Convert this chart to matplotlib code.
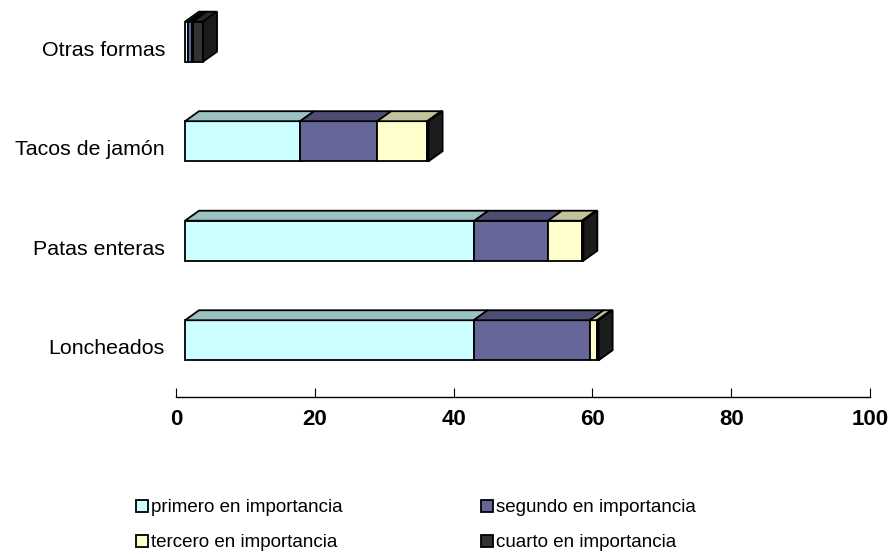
import matplotlib
matplotlib.use("Agg")
import matplotlib.pyplot as plt
from matplotlib.patches import Rectangle, Polygon, Patch
from matplotlib.colors import to_rgb

# Data: share of answers placing each presentation first..fourth in importance
categories = ["Loncheados", "Patas enteras", "Tacos de jamón", "Otras formas"]
series_names = ["primero en importancia", "segundo en importancia",
                "tercero en importancia", "cuarto en importancia"]
primero = [41.6, 41.7, 16.6, 0.5]
segundo = [16.7, 10.6, 11.1, 0.5]
tercero = [1.1, 4.9, 7.2, 0.1]
cuarto = [0.2, 0.2, 0.2, 1.5]
xticks = [0, 20, 40, 60, 80, 100]

front_colors = ["#CCFFFF", "#666699", "#FFFFCC", "#333333"]
TOP_SHADE = 0.76
SIDE_SHADE = 0.55

W, H, DPI = 893, 554, 100
fig = plt.figure(figsize=(W / DPI, H / DPI), dpi=DPI)

ax_left_px, ax_right_px = 176, 870
ax_bottom_px = 397.3
ylo, yhi = -0.508, 3.484
ax = fig.add_axes([ax_left_px / W, (H - ax_bottom_px) / H,
                   (ax_right_px - ax_left_px) / W, ax_bottom_px / H])
ax.set_xlim(0, 100)
ax.set_ylim(ylo, yhi)

# pixel sizes of the 3-D look, converted to data units
px_x = (ax_right_px - ax_left_px) / 100.0
px_y = ax_bottom_px / (yhi - ylo)
front_dx, front_dy = 9 / px_x, 6.5 / px_y      # bar front plane behind the floor edge
depth_dx, depth_dy = 14 / px_x, 10 / px_y      # bar depth
bar_h = 40 / px_y
LW = 1.3


def shade(c, f):
    r, g, b = to_rgb(c)
    return (r * f, g * f, b * f)


series = [primero, segundo, tercero, cuarto]
for i, cat in enumerate(categories):
    left = front_dx
    yc = i + front_dy
    yb, yt = yc - bar_h / 2, yc + bar_h / 2
    for s, vals in enumerate(series):
        w = vals[i]
        col = front_colors[s]
        ax.add_patch(Rectangle((left, yb), w, bar_h, facecolor=col,
                               edgecolor="black", linewidth=LW, zorder=3))
        ax.add_patch(Polygon([(left, yt), (left + w, yt),
                              (left + w + depth_dx, yt + depth_dy),
                              (left + depth_dx, yt + depth_dy)],
                             closed=True, facecolor=shade(col, TOP_SHADE),
                             edgecolor="black", linewidth=LW, zorder=3))
        if s == len(series) - 1:
            r = left + w
            ax.add_patch(Polygon([(r, yb), (r + depth_dx, yb + depth_dy),
                                  (r + depth_dx, yt + depth_dy), (r, yt)],
                                 closed=True, facecolor=shade(col, SIDE_SHADE),
                                 edgecolor="black", linewidth=LW, zorder=3))
        left += w

for sp in ["top", "right", "left"]:
    ax.spines[sp].set_visible(False)
ax.spines["bottom"].set_linewidth(1.0)

ax.set_xticks(xticks)
ax.set_xticklabels([str(t) for t in xticks], fontfamily="Liberation Sans",
                   fontweight="bold", fontsize=16)
ax.tick_params(axis="x", direction="in", length=6.5, width=0.8, pad=8.5)
ax.set_yticks(range(len(categories)))
ax.set_yticklabels(categories, fontfamily="Liberation Sans", fontsize=15.4)
ax.tick_params(axis="y", length=0, pad=8)

handles = [Patch(facecolor=front_colors[k], edgecolor="black", linewidth=LW)
           for k in range(4)]
order = [0, 2, 1, 3]
leg = fig.legend([handles[k] for k in order], [series_names[k] for k in order],
                 ncol=2, loc="upper left", bbox_to_anchor=(127 / W, 1 - 490 / H),
                 frameon=False, borderpad=0, handlelength=0.62, handleheight=0.62,
                 handletextpad=0.15, columnspacing=7.4, labelspacing=0.95,
                 prop={"family": "Liberation Sans", "size": 13.5})

fig.savefig("out.png", dpi=DPI)
